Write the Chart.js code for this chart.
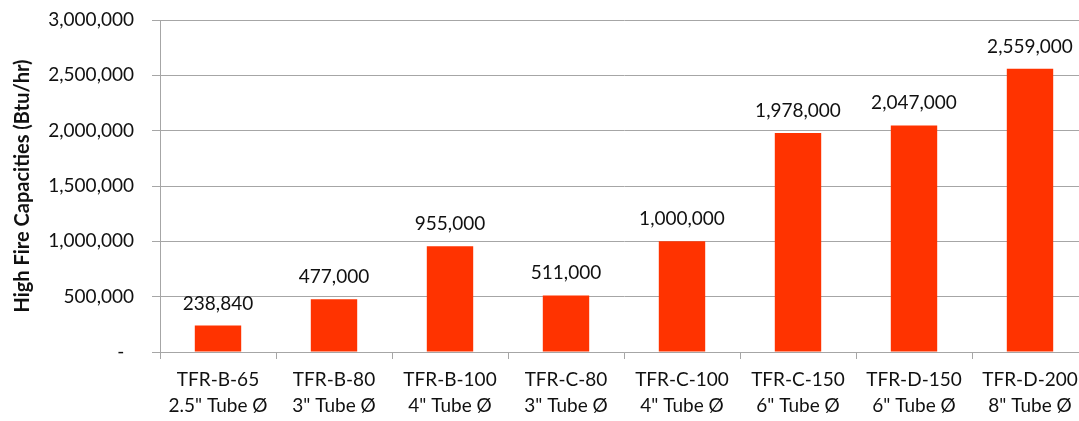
<!DOCTYPE html>
<html>
<head>
<meta charset="utf-8">
<script src="https://cdn.jsdelivr.net/npm/chart.js@4/dist/chart.umd.min.js"></script>
<style>
  html, body { margin: 0; padding: 0; background: #fff; overflow: hidden; }
  #wrap { width: 1079px; height: 421px; overflow: hidden; }
</style>
</head>
<body>
<div id="wrap"><canvas id="capChart" width="1090" height="421"></canvas></div>
<script>
// modelos y tamaños de tubo
const models = ['TFR-B-65', 'TFR-B-80', 'TFR-B-100', 'TFR-C-80', 'TFR-C-100', 'TFR-C-150', 'TFR-D-150', 'TFR-D-200'];
const tubes = ['2.5" Tube Ø', '3" Tube Ø', '4" Tube Ø', '3" Tube Ø', '4" Tube Ø', '6" Tube Ø', '6" Tube Ø', '8" Tube Ø'];
const capacities = [238840, 477000, 955000, 511000, 1000000, 1978000, 2047000, 2559000];
const yTicks = [0, 500000, 1000000, 1500000, 2000000, 2500000, 3000000];

const fontFamily = 'Lato, "Open Sans", sans-serif';
const textColor = '#111';
const gridColor = '#a6a6a6';

const fmt = v => v.toLocaleString('en-US');

// etiquetas encima de cada barra
const valueLabels = {
    id: 'valueLabels',
    afterDatasetsDraw(chart) {
        const ctx = chart.ctx;
        const meta = chart.getDatasetMeta(0);
        ctx.save();
        ctx.font = '19px ' + fontFamily;
        ctx.fillStyle = textColor;
        ctx.textAlign = 'center';
        ctx.textBaseline = 'alphabetic';
        meta.data.forEach((bar, i) => {
            ctx.fillText(fmt(capacities[i]), bar.x, bar.y - 16);
        });
        ctx.restore();
    }
};

new Chart(document.getElementById('capChart').getContext('2d'), {
    type: 'bar',
    data: {
        labels: models.map((m, i) => [m, tubes[i]]),
        datasets: [{
            data: capacities,
            backgroundColor: '#ff3300',
            borderWidth: 0,
            categoryPercentage: 1,
            barPercentage: 0.4
        }]
    },
    options: {
        responsive: false,
        animation: false,
        devicePixelRatio: 1,
        layout: { padding: { left: 0, right: 2, top: 20, bottom: 0 } },
        plugins: {
            legend: { display: false },
            tooltip: { enabled: false }
        },
        scales: {
            x: {
                grid: {
                    offset: true,
                    drawOnChartArea: false,
                    drawTicks: true,
                    tickLength: 7,
                    color: gridColor
                },
                border: { color: gridColor },
                ticks: {
                    color: textColor,
                    font: { family: fontFamily, size: 19, lineHeight: 1.35 },
                    padding: 8,
                    maxRotation: 0,
                    autoSkip: false
                },
                afterFit: s => { s.height = 69; }
            },
            y: {
                min: 0,
                max: 3000000,
                afterBuildTicks: s => { s.ticks = yTicks.map(v => ({ value: v })); },
                grid: {
                    color: gridColor,
                    tickLength: 8
                },
                border: { color: gridColor },
                ticks: {
                    color: textColor,
                    font: { family: fontFamily, size: 19 },
                    padding: 18,
                    callback: v => v === 0 ? '-  ' : fmt(v)
                },
                title: {
                    display: true,
                    text: 'High Fire Capacities (Btu/hr)',
                    color: textColor,
                    font: { family: fontFamily, size: 20, weight: 'bold' },
                    padding: { top: 11, bottom: 0 }
                },
                afterFit: s => {
                    s.width = 160;
                    s.paddingTop = 0;
                    s.paddingBottom = 0;
                }
            }
        }
    },
    plugins: [valueLabels]
});
</script>
</body>
</html>
